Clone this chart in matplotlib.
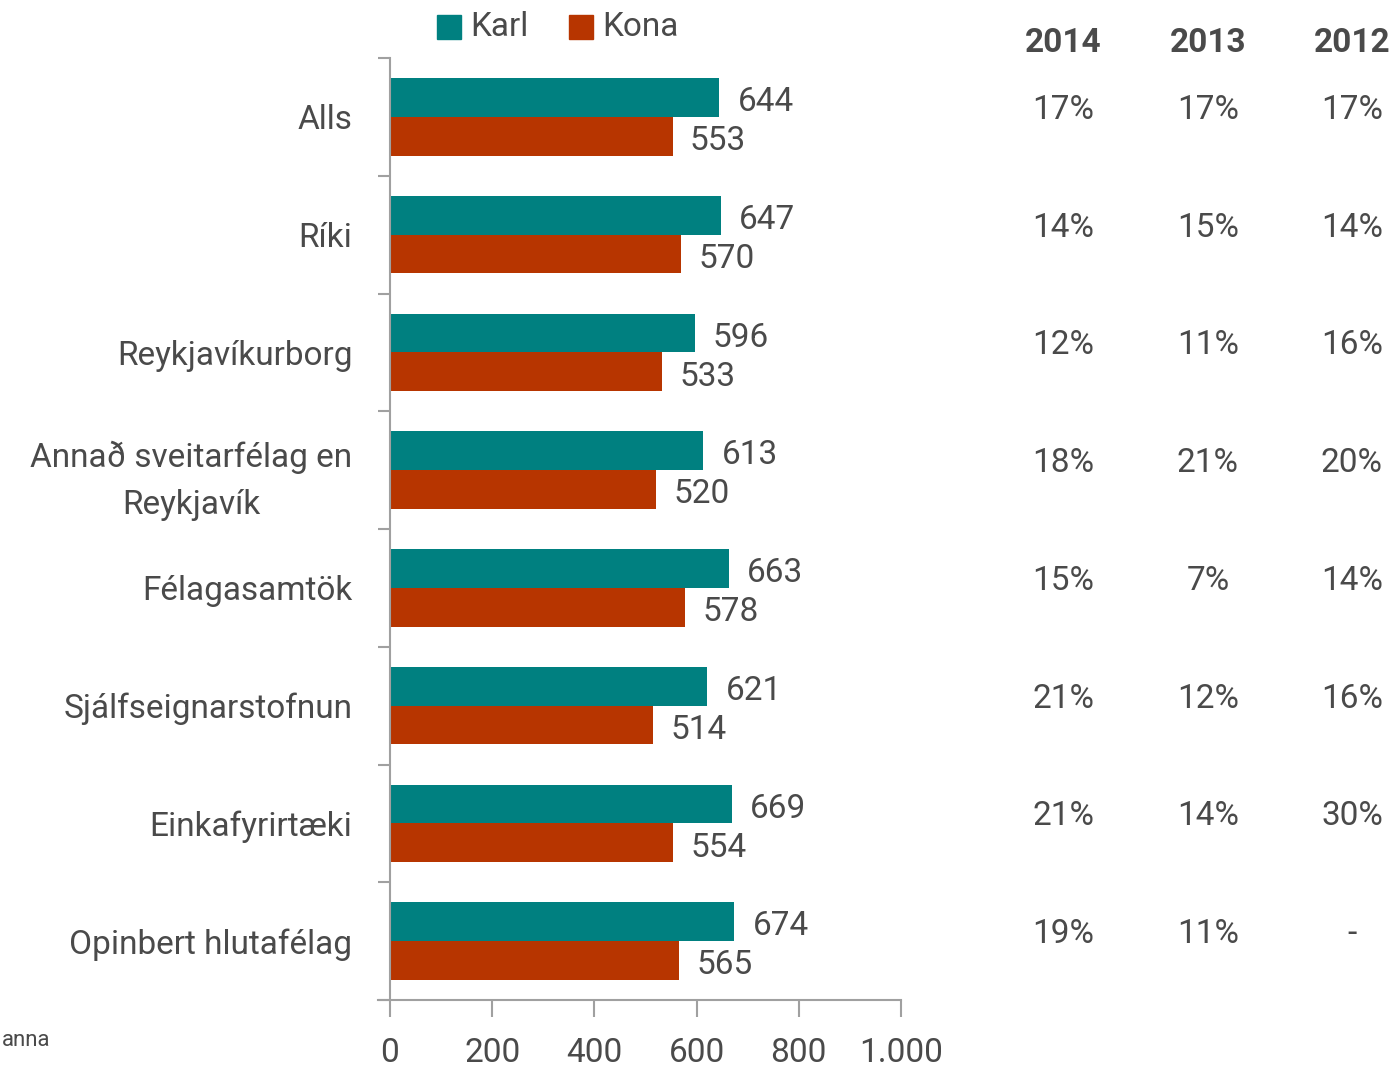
import matplotlib.pyplot as plt
import matplotlib.transforms as mtransforms
from matplotlib.patches import Rectangle

# Data
categories = ['Alls', 'Ríki', 'Reykjavíkurborg', 'Annað sveitarfélag en\nReykjavík',
              'Félagasamtök', 'Sjálfseignarstofnun', 'Einkafyrirtæki', 'Opinbert hlutafélag']
karl = [644, 647, 596, 613, 663, 621, 669, 674]
kona = [553, 570, 533, 520, 578, 514, 554, 565]
years = ['2014', '2013', '2012']
pct_2014 = ['17%', '14%', '12%', '18%', '15%', '21%', '21%', '19%']
pct_2013 = ['17%', '15%', '11%', '21%', '7%', '12%', '14%', '11%']
pct_2012 = ['17%', '14%', '16%', '20%', '14%', '16%', '30%', '-']
xticks = [0, 200, 400, 600, 800, 1000]
xticklabels = ['0', '200', '400', '600', '800', '1.000']

c_karl = '#008080'
c_kona = '#b73500'
txt = '#4a4a4a'
grey = '#a0a0a0'
fs = 24

plt.rcParams['font.family'] = ['Roboto', 'DejaVu Sans']

W, H = 1397, 1074
fig = plt.figure(figsize=(W / 100, H / 100), dpi=100)
ax = fig.add_axes([390 / W, 1 - 1000 / H, 511 / W, 942 / H])

n = len(categories)
ypos = list(range(n))
bh = 0.33
ax.barh([y - bh / 2 for y in ypos], karl, height=bh, color=c_karl)
ax.barh([y + bh / 2 for y in ypos], kona, height=bh, color=c_kona)

for y, v in zip(ypos, karl):
    ax.text(v + 36, y - bh / 2 + 0.04, str(v), va='center', ha='left', fontsize=fs, color=txt)
for y, v in zip(ypos, kona):
    ax.text(v + 34, y + bh / 2 + 0.04, str(v), va='center', ha='left', fontsize=fs, color=txt)

ax.set_xlim(0, 1000)
ax.set_ylim(n - 0.5, -0.5)

for s in ['top', 'right']:
    ax.spines[s].set_visible(False)
ax.spines['left'].set_color(grey)
ax.spines['bottom'].set_color(grey)
ax.spines['left'].set_linewidth(1.5)
ax.spines['bottom'].set_linewidth(1.5)
ax.spines['bottom'].set_bounds(-24, 1000)

ax.set_xticks(xticks)
ax.set_xticklabels(xticklabels, fontsize=24, color=txt)
ax.tick_params(axis='x', length=12, width=1.5, color=grey, pad=15)

ax.set_yticks([i - 0.5 for i in range(n + 1)])
ax.set_yticklabels([])
ax.tick_params(axis='y', which='major', length=9, width=1.5, color=grey)
ax.set_yticks(ypos, minor=True)
ax.set_yticklabels(categories, minor=True, fontsize=fs, color=txt,
                   multialignment='center', linespacing=1.6)
ax.tick_params(axis='y', which='minor', length=0, pad=27)

# table on the right
trans = mtransforms.blended_transform_factory(fig.transFigure, ax.transData)
col_x = [1063 / W, 1208 / W, 1352 / W]
for cx, yr, vals in zip(col_x, years, [pct_2014, pct_2013, pct_2012]):
    fig.text(cx, 1 - 43 / H, yr, ha='center', va='center', fontsize=fs,
             fontweight='bold', color=txt)
    for y, v in zip(ypos, vals):
        ax.text(cx, y - 0.06, v, transform=trans, ha='center', va='center',
                fontsize=fs, color=txt, clip_on=False)

# legend
for x0, lab, col in [(437, 'Karl', c_karl), (569, 'Kona', c_kona)]:
    fig.patches.append(Rectangle((x0 / W, 1 - 39 / H), 24 / W, 24 / H,
                                 transform=fig.transFigure, color=col))
    fig.text((x0 + 33) / W, 1 - 27 / H, lab, ha='left', va='center',
             fontsize=fs, color=txt)

fig.text(50 / W, 1 - 1040 / H, 'anna', ha='right', va='center', fontsize=16, color=txt)

fig.savefig('out.png', dpi=100)
